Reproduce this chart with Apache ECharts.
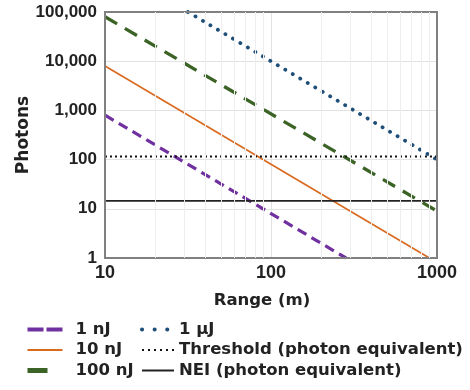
<!DOCTYPE html>
<html><head><meta charset="utf-8">
<script src="https://cdn.jsdelivr.net/npm/echarts@6/dist/echarts.min.js"></script>
<style>html,body{margin:0;padding:0;background:#fff}#c{width:470px;height:390px}</style>
</head><body><div id="c"></div>
<script>
// Data (range in m, photons)
const nJ1X = [10, 283],    nJ1Y = [800, 1];
const nJ10X = [10, 900],   nJ10Y = [8000, 1];
const nJ100X = [10, 1000], nJ100Y = [80000, 9];
const uJ1X = [31.6, 1000], uJ1Y = [100000, 100];
const thresholdX = [10, 1000], thresholdY = [115, 115];
const neiX = [10, 1000], neiY = [14.5, 14.5];
const seriesNames = ['1 nJ', '10 nJ', '100 nJ', '1 µJ', 'Threshold (photon equivalent)', 'NEI (photon equivalent)'];
const xTickValues = [10, 100, 1000];
const xTickLabels = ['10', '100', '1000'];
const yTickValues = [1, 10, 100, 1000, 10000, 100000];
const yTickLabels = ['1', '10', '100', '1,000', '10,000', '100,000'];
const xMinorGrid = [20,30,40,50,60,70,80,90,200,300,400,500,600,700,800,900];

const pairs = (xs, ys) => xs.map((x, i) => [x, ys[i]]);
const tickFont = {fontFamily: 'Liberation Sans', fontWeight: 'bold', color: '#222'};
const nameFont = {fontFamily: 'DejaVu Sans', fontWeight: 'bold', fontSize: 16.5, color: '#222'};

const COLORS = ['#7030A0', '#D9691F', '#3B6325', '#1F4E79', '#111111', '#222222'];

const chart = echarts.init(document.getElementById('c'), null, {renderer: 'canvas'});
const lineSeries = (i, xs, ys, width, type, cap) => ({
  name: seriesNames[i], type: 'line', data: pairs(xs, ys), symbol: 'none', showSymbol: false,
  lineStyle: {color: COLORS[i], width, type, cap: cap || 'butt'}, itemStyle: {color: COLORS[i]},
  z: 3, animation: false
});
const legendItem = (i, width, type, cap) => ({
  name: seriesNames[i],
  lineStyle: {color: COLORS[i], width, type, cap: cap || 'butt'},
  itemStyle: {opacity: 0}
});

chart.setOption({
  animation: false,
  grid: {left: 105, right: 33, top: 12, bottom: 132, show: true, borderColor: '#808080', borderWidth: 2, backgroundColor: 'transparent', z: 5},
  xAxis: {
    type: 'log', logBase: 10, min: 10, max: 1000,
    name: 'Range (m)', nameLocation: 'middle', nameGap: 34, nameMoveOverlap: false,
    nameTextStyle: Object.assign({}, nameFont, {padding: [0, 18, 0, 0]}),
    axisLine: {show: false}, axisTick: {show: false},
    axisLabel: Object.assign({}, tickFont, {fontSize: 18, margin: 6, formatter: v => {
      const i = xTickValues.findIndex(t => Math.abs(t - v) / t < 1e-6); return i >= 0 ? xTickLabels[i] : '';
    }}),
    splitLine: {show: true, lineStyle: {color: '#e2e2e2', width: 1}}
  },
  yAxis: {
    type: 'log', logBase: 10, min: 1, max: 100000,
    name: 'Photons', nameLocation: 'middle', nameGap: 73, nameRotate: 90, nameMoveOverlap: false,
    nameTextStyle: Object.assign({}, nameFont, {fontSize: 17}),
    axisLine: {show: false}, axisTick: {show: false},
    axisLabel: Object.assign({}, tickFont, {fontSize: 17, margin: 8, formatter: v => {
      const i = yTickValues.findIndex(t => Math.abs(t - v) / t < 1e-6); return i >= 0 ? yTickLabels[i] : '';
    }}),
    splitLine: {show: true, lineStyle: {color: '#e2e2e2', width: 1}}
  },
  legend: [
    {data: [legendItem(0, 4, [16, 3]), legendItem(1, 2, 'solid'), legendItem(2, 5, [20, 40])],
     orient: 'vertical', left: 25, top: 321, padding: 0, itemWidth: 35, itemHeight: 12, itemGap: 3.5,
     itemStyle: {opacity: 0},
     textStyle: Object.assign({}, nameFont, {padding: [0, 0, 0, 8]})},
    {data: [legendItem(3, 4, [0.1, 12.5], 'round'), legendItem(4, 2, [2, 4]), legendItem(5, 2, 'solid')],
     orient: 'vertical', left: 140, top: 321, padding: 0, itemWidth: 32, itemHeight: 12, itemGap: 3.5,
     itemStyle: {opacity: 0},
     textStyle: Object.assign({}, nameFont)}
  ],
  series: [
    {type: 'line', data: [], silent: true, z: 1,
     markLine: {silent: true, symbol: 'none', label: {show: false}, animation: false,
       lineStyle: {color: '#eeeeee', width: 1, type: 'solid'},
       data: xMinorGrid.map(v => ({xAxis: v}))}},
    lineSeries(0, nJ1X, nJ1Y, 3.2, [10, 6]),
    lineSeries(1, nJ10X, nJ10Y, 1.6, 'solid'),
    lineSeries(2, nJ100X, nJ100Y, 3.3, [14, 9]),
    lineSeries(3, uJ1X, uJ1Y, 3.8, [0.1, 8.6], 'round'),
    lineSeries(4, thresholdX, thresholdY, 2, [2, 3]),
    lineSeries(5, neiX, neiY, 1.8, 'solid')
  ]
});
</script></body></html>
